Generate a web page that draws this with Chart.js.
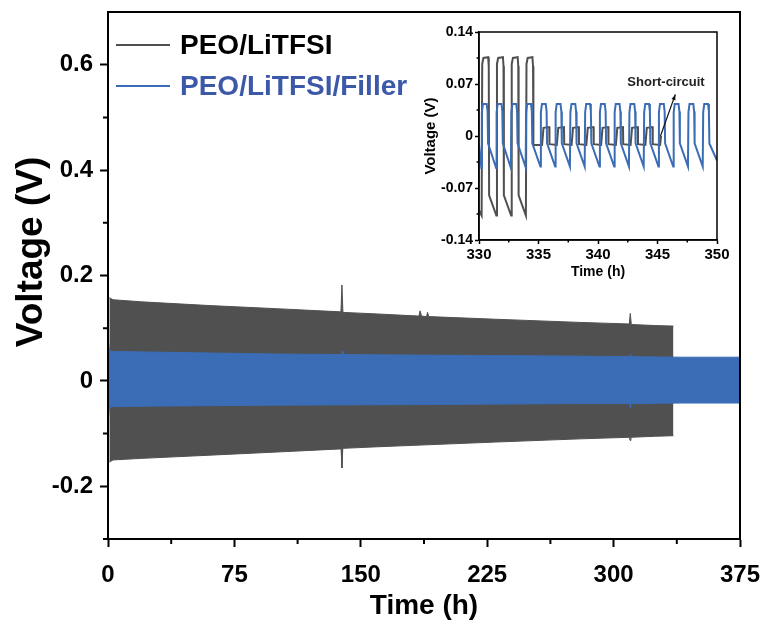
<!DOCTYPE html>
<html>
<head>
<meta charset="utf-8">
<script src="https://cdn.jsdelivr.net/npm/chart.js@4.4.1/dist/chart.umd.min.js"></script>
<style>
html, body { margin: 0; padding: 0; background: #fff; }
#wrap { position: relative; width: 766px; height: 623px; overflow: hidden; background: #fff; }
#mainChart { position: absolute; left: 0; top: 0; }
#insetChart { position: absolute; left: 410px; top: 20px; }
</style>
</head>
<body>
<div id="wrap">
    <canvas id="mainChart" width="766" height="623"></canvas>
    <canvas id="insetChart" width="340" height="270"></canvas>
</div>
<script>
// series names
const seriesNames = ['PEO/LiTFSI', 'PEO/LiTFSI/Filler'];

// main plot: envelopes of the cycling voltage (h, V)
const blackUpperTime = [0.8, 3, 20, 60, 100, 138.2, 138.8, 139.4, 160, 184.5, 185.2, 186, 189, 189.6, 190.3, 230, 280, 309.3, 309.9, 310.5, 325, 335.5];
const blackUpperVolt = [0.158, 0.154, 0.150, 0.143, 0.137, 0.131, 0.182, 0.130, 0.127, 0.123, 0.133, 0.123, 0.122, 0.130, 0.122, 0.117, 0.111, 0.108, 0.128, 0.107, 0.105, 0.104];
const blackLowerTime = [0.8, 3, 20, 60, 100, 138.3, 138.8, 139.3, 160, 230, 280, 309.3, 309.8, 310.3, 325, 335.5];
const blackLowerVolt = [-0.154, -0.150, -0.147, -0.141, -0.135, -0.129, -0.165, -0.128, -0.125, -0.116, -0.110, -0.107, -0.113, -0.107, -0.105, -0.104];
const blueUpperTime = [0.3, 0.8, 2, 20, 60, 100, 138.6, 139, 139.4, 180, 230, 280, 309.6, 310, 310.4, 340, 375];
const blueUpperVolt = [0.074, 0.060, 0.056, 0.055, 0.053, 0.051, 0.050, 0.056, 0.050, 0.049, 0.048, 0.047, 0.046, 0.051, 0.046, 0.045, 0.045];
const blueLowerTime = [0.3, 0.8, 2, 20, 60, 100, 180, 230, 280, 309.6, 310, 310.4, 340, 375];
const blueLowerVolt = [-0.070, -0.054, -0.049, -0.048, -0.047, -0.046, -0.045, -0.044, -0.043, -0.043, -0.052, -0.043, -0.042, -0.042];

const mainXTicks = [0, 75, 150, 225, 300, 375];
const mainXMinor = [37.5, 112.5, 187.5, 262.5, 337.5];
const mainYTicks = [-0.2, 0, 0.2, 0.4, 0.6];
const mainYMinor = [-0.3, -0.1, 0.1, 0.3, 0.5];

// inset: 330-350 h detail
const insetBlackTime = [330.00,
    330.22, 330.27, 330.37, 330.77, 330.82, 330.85,
    331.46, 331.51, 331.61, 332.01, 332.06, 332.09,
    332.70, 332.75, 332.85, 333.25, 333.30, 333.33,
    333.94, 333.99, 334.09, 334.49, 334.54, 334.57,
    335.30, 335.42, 335.90, 335.92,
    336.54, 336.66, 337.14, 337.16,
    337.78, 337.90, 338.38, 338.40,
    339.02, 339.14, 339.62, 339.64,
    340.26, 340.38, 340.86, 340.88,
    341.50, 341.62, 342.10, 342.12,
    342.74, 342.86, 343.34, 343.36,
    343.98, 344.10, 344.58, 344.60,
    345.22, 345.30];
const insetBlackVolt = [-0.100,
    -0.107, 0.097, 0.105, 0.106, 0.094, -0.080,
    -0.107, 0.097, 0.105, 0.106, 0.094, -0.080,
    -0.107, 0.097, 0.105, 0.106, 0.094, -0.080,
    -0.107, 0.097, 0.105, 0.106, 0.094, -0.012,
    -0.012, 0.011, 0.012, -0.011,
    -0.012, 0.011, 0.012, -0.011,
    -0.012, 0.011, 0.012, -0.011,
    -0.012, 0.011, 0.012, -0.011,
    -0.012, 0.011, 0.012, -0.011,
    -0.012, 0.011, 0.012, -0.011,
    -0.012, 0.011, 0.012, -0.011,
    -0.012, 0.011, 0.012, -0.011,
    -0.012, 0.000];
const insetBlueTime = [330.00,
    330.20, 330.24, 330.33, 330.65, 330.72, 330.76,
    331.44, 331.48, 331.57, 331.89, 331.96, 332.00,
    332.68, 332.72, 332.81, 333.13, 333.20, 333.24,
    333.92, 333.96, 334.05, 334.37, 334.44, 334.48,
    335.16, 335.20, 335.29, 335.61, 335.68, 335.72,
    336.40, 336.44, 336.53, 336.85, 336.92, 336.96,
    337.64, 337.68, 337.77, 338.09, 338.16, 338.20,
    338.88, 338.92, 339.01, 339.33, 339.40, 339.44,
    340.12, 340.16, 340.25, 340.57, 340.64, 340.68,
    341.36, 341.40, 341.49, 341.81, 341.88, 341.92,
    342.60, 342.64, 342.73, 343.05, 343.12, 343.16,
    343.84, 343.88, 343.97, 344.29, 344.36, 344.40,
    345.08, 345.12, 345.21, 345.53, 345.60, 345.64,
    346.32, 346.36, 346.45, 346.77, 346.84, 346.88,
    347.56, 347.60, 347.69, 348.01, 348.08, 348.12,
    348.80, 348.84, 348.93, 349.25, 349.32, 349.36,
    350.00];
const insetBlueVolt = [-0.012,
    -0.043, 0.032, 0.043, 0.043, 0.033, -0.010,
    -0.043, 0.032, 0.043, 0.043, 0.033, -0.010,
    -0.043, 0.032, 0.043, 0.043, 0.033, -0.010,
    -0.042, 0.032, 0.043, 0.043, 0.033, -0.010,
    -0.041, 0.032, 0.043, 0.043, 0.033, -0.010,
    -0.041, 0.032, 0.043, 0.043, 0.033, -0.010,
    -0.041, 0.032, 0.043, 0.043, 0.033, -0.010,
    -0.041, 0.032, 0.043, 0.043, 0.033, -0.010,
    -0.041, 0.032, 0.043, 0.043, 0.033, -0.010,
    -0.041, 0.032, 0.043, 0.043, 0.033, -0.010,
    -0.041, 0.032, 0.043, 0.043, 0.033, -0.010,
    -0.041, 0.032, 0.043, 0.043, 0.033, -0.010,
    -0.041, 0.032, 0.043, 0.043, 0.033, -0.010,
    -0.041, 0.032, 0.043, 0.043, 0.033, -0.010,
    -0.041, 0.032, 0.043, 0.043, 0.033, -0.010,
    -0.041, 0.032, 0.043, 0.043, 0.033, -0.010,
    -0.033];

const insetXTicks = [330, 335, 340, 345, 350];
const insetXMinor = [332.5, 337.5, 342.5, 347.5];
const insetYTicks = [-0.14, -0.07, 0, 0.07, 0.14];
const insetYMinor = [-0.105, -0.035, 0.035, 0.105];

const blackColor = '#505050';
const blueColor = '#3a6db5';
const blueText = '#3c58a8';
const fontFamily = '"Liberation Sans", Arial, sans-serif';

Chart.defaults.font.family = fontFamily;
Chart.defaults.color = '#000';

function zip(times, volts) {
    return times.map((t, i) => ({ x: t, y: volts[i] }));
}

function fmtTick(v, digits) {
    if (Math.abs(v) < 1e-9) return '0';
    return v.toFixed(digits);
}

// frame box + short minor ticks
function frameAndMinor(id, lineWidth, minorLen, xMinor, yMinor) {
    return {
        id: id,
        afterDraw(chart) {
            const ctx = chart.ctx;
            const a = chart.chartArea;
            const xs = chart.scales.x;
            const ys = chart.scales.y;
            ctx.save();
            ctx.strokeStyle = '#000';
            ctx.lineWidth = lineWidth;
            ctx.strokeRect(a.left, a.top, a.right - a.left, a.bottom - a.top);
            ctx.beginPath();
            xMinor.forEach(v => {
                const px = xs.getPixelForValue(v);
                ctx.moveTo(px, a.bottom);
                ctx.lineTo(px, a.bottom + minorLen);
            });
            yMinor.forEach(v => {
                const py = ys.getPixelForValue(v);
                ctx.moveTo(a.left, py);
                ctx.lineTo(a.left - minorLen, py);
            });
            ctx.stroke();
            ctx.restore();
        }
    };
}

// legend in the upper-left corner + y title of the main plot
const legendPlugin = {
    id: 'cornerLegend',
    afterDraw(chart) {
        const ctx = chart.ctx;
        const rows = [
            { text: seriesNames[0], line: blackColor, color: '#000', y: 45 },
            { text: seriesNames[1], line: blueColor, color: blueText, y: 86 }
        ];
        ctx.save();
        ctx.font = 'bold 28px ' + fontFamily;
        ctx.textBaseline = 'middle';
        ctx.textAlign = 'left';
        rows.forEach(r => {
            ctx.strokeStyle = r.line;
            ctx.lineWidth = 2;
            ctx.beginPath();
            ctx.moveTo(116, r.y);
            ctx.lineTo(170, r.y);
            ctx.stroke();
            ctx.fillStyle = r.color;
            ctx.fillText(r.text, 180, r.y + 1);
        });

        // axis title sits a bit above the middle in the original
        ctx.translate(32, 252);
        ctx.rotate(-Math.PI / 2);
        ctx.font = 'bold 37px ' + fontFamily;
        ctx.textAlign = 'center';
        ctx.fillStyle = '#000';
        ctx.fillText('Voltage (V)', 0, 0);
        ctx.restore();
    }
};

// short-circuit note with arrow in the inset
const notePlugin = {
    id: 'shortNote',
    afterDraw(chart) {
        const ctx = chart.ctx;
        const xs = chart.scales.x;
        const ys = chart.scales.y;
        const x0 = xs.getPixelForValue(345.25);
        const y0 = ys.getPixelForValue(0.0);
        const x1 = xs.getPixelForValue(346.5);
        const y1 = ys.getPixelForValue(0.056);
        ctx.save();
        ctx.strokeStyle = '#111';
        ctx.fillStyle = '#111';
        ctx.lineWidth = 1.2;
        ctx.beginPath();
        ctx.moveTo(x0, y0);
        ctx.lineTo(x1, y1);
        ctx.stroke();
        const ang = Math.atan2(y1 - y0, x1 - x0);
        ctx.beginPath();
        ctx.moveTo(x1, y1);
        ctx.lineTo(x1 - 6 * Math.cos(ang - 0.35), y1 - 6 * Math.sin(ang - 0.35));
        ctx.lineTo(x1 - 6 * Math.cos(ang + 0.35), y1 - 6 * Math.sin(ang + 0.35));
        ctx.closePath();
        ctx.fill();
        ctx.font = 'bold 13px ' + fontFamily;
        ctx.textAlign = 'center';
        ctx.textBaseline = 'middle';
        ctx.fillStyle = '#222';
        ctx.fillText('Short-circuit', 256, 62);
        ctx.restore();
    }
};

function bandSet(times, volts, color, fill, order) {
    return {
        data: zip(times, volts),
        borderColor: color,
        backgroundColor: color,
        borderWidth: 1,
        pointRadius: 0,
        tension: 0,
        fill: fill,
        order: order
    };
}

function lineSet(times, volts, color, order) {
    return {
        data: zip(times, volts),
        borderColor: color,
        borderWidth: 2,
        pointRadius: 0,
        tension: 0,
        fill: false,
        order: order
    };
}

// main chart
new Chart(document.getElementById('mainChart'), {
    type: 'line',
    data: {
        datasets: [
            bandSet(blackUpperTime, blackUpperVolt, blackColor, '+1', 1),
            bandSet(blackLowerTime, blackLowerVolt, blackColor, false, 1),
            bandSet(blueUpperTime, blueUpperVolt, blueColor, '+1', 0),
            bandSet(blueLowerTime, blueLowerVolt, blueColor, false, 0)
        ]
    },
    options: {
        responsive: false,
        animation: false,
        layout: { padding: { top: 12, right: 26, left: 0, bottom: 0 } },
        plugins: { legend: { display: false }, tooltip: { enabled: false } },
        scales: {
            x: {
                type: 'linear',
                min: 0,
                max: 375,
                afterFit: s => { s.height = 84; s.paddingLeft = 0; s.paddingRight = 0; },
                afterBuildTicks: s => { s.ticks = mainXTicks.map(v => ({ value: v })); },
                ticks: {
                    padding: 14,
                    maxRotation: 0,
                    font: { size: 24, weight: 'bold' },
                    callback: v => String(v)
                },
                grid: { drawOnChartArea: false, tickLength: 8, tickWidth: 2, tickColor: '#000' },
                border: { display: true, color: '#000', width: 2 },
                title: {
                    display: true,
                    text: 'Time (h)',
                    font: { size: 28, weight: 'bold' },
                    padding: { top: 0, bottom: 0 }
                }
            },
            y: {
                type: 'linear',
                min: -0.3,
                max: 0.7,
                afterFit: s => { s.width = 108; s.paddingTop = 0; s.paddingBottom = 0; },
                afterBuildTicks: s => { s.ticks = mainYTicks.map(v => ({ value: v })); },
                ticks: {
                    padding: 7,
                    font: { size: 24, weight: 'bold' },
                    callback: v => fmtTick(v, 1)
                },
                grid: { drawOnChartArea: false, tickLength: 8, tickWidth: 2, tickColor: '#000' },
                border: { display: true, color: '#000', width: 2 }
            }
        }
    },
    plugins: [frameAndMinor('mainFrame', 2, 5, mainXMinor, mainYMinor), legendPlugin]
});

// inset chart
new Chart(document.getElementById('insetChart'), {
    type: 'line',
    data: {
        datasets: [
            lineSet(insetBlackTime, insetBlackVolt, blackColor, 1),
            lineSet(insetBlueTime, insetBlueVolt, blueColor, 0)
        ]
    },
    options: {
        responsive: false,
        animation: false,
        layout: { padding: { top: 12, right: 33, left: 0, bottom: 0 } },
        plugins: { legend: { display: false }, tooltip: { enabled: false } },
        scales: {
            x: {
                type: 'linear',
                min: 330,
                max: 350,
                afterFit: s => { s.height = 50; s.paddingLeft = 0; s.paddingRight = 0; },
                afterBuildTicks: s => { s.ticks = insetXTicks.map(v => ({ value: v })); },
                ticks: {
                    padding: 2,
                    maxRotation: 0,
                    font: { size: 15, weight: 'bold' },
                    callback: v => String(v)
                },
                grid: { drawOnChartArea: false, tickLength: 4, tickWidth: 1.5, tickColor: '#000' },
                border: { display: true, color: '#000', width: 1.5 },
                title: {
                    display: true,
                    text: 'Time (h)',
                    font: { size: 14, weight: 'bold' },
                    padding: { top: 0, bottom: 9 }
                }
            },
            y: {
                type: 'linear',
                min: -0.14,
                max: 0.14,
                afterFit: s => { s.width = 69; s.paddingTop = 0; s.paddingBottom = 0; },
                afterBuildTicks: s => { s.ticks = insetYTicks.map(v => ({ value: v })); },
                ticks: {
                    padding: 2,
                    font: { size: 14, weight: 'bold' },
                    callback: v => fmtTick(v, 2)
                },
                grid: { drawOnChartArea: false, tickLength: 4, tickWidth: 1.5, tickColor: '#000' },
                border: { display: true, color: '#000', width: 1.5 },
                title: {
                    display: true,
                    text: 'Voltage (V)',
                    font: { size: 15, weight: 'bold' },
                    padding: { top: 12, bottom: 0 }
                }
            }
        }
    },
    plugins: [frameAndMinor('insetFrame', 1.5, 2.5, insetXMinor, insetYMinor), notePlugin]
});
</script>
</body>
</html>
